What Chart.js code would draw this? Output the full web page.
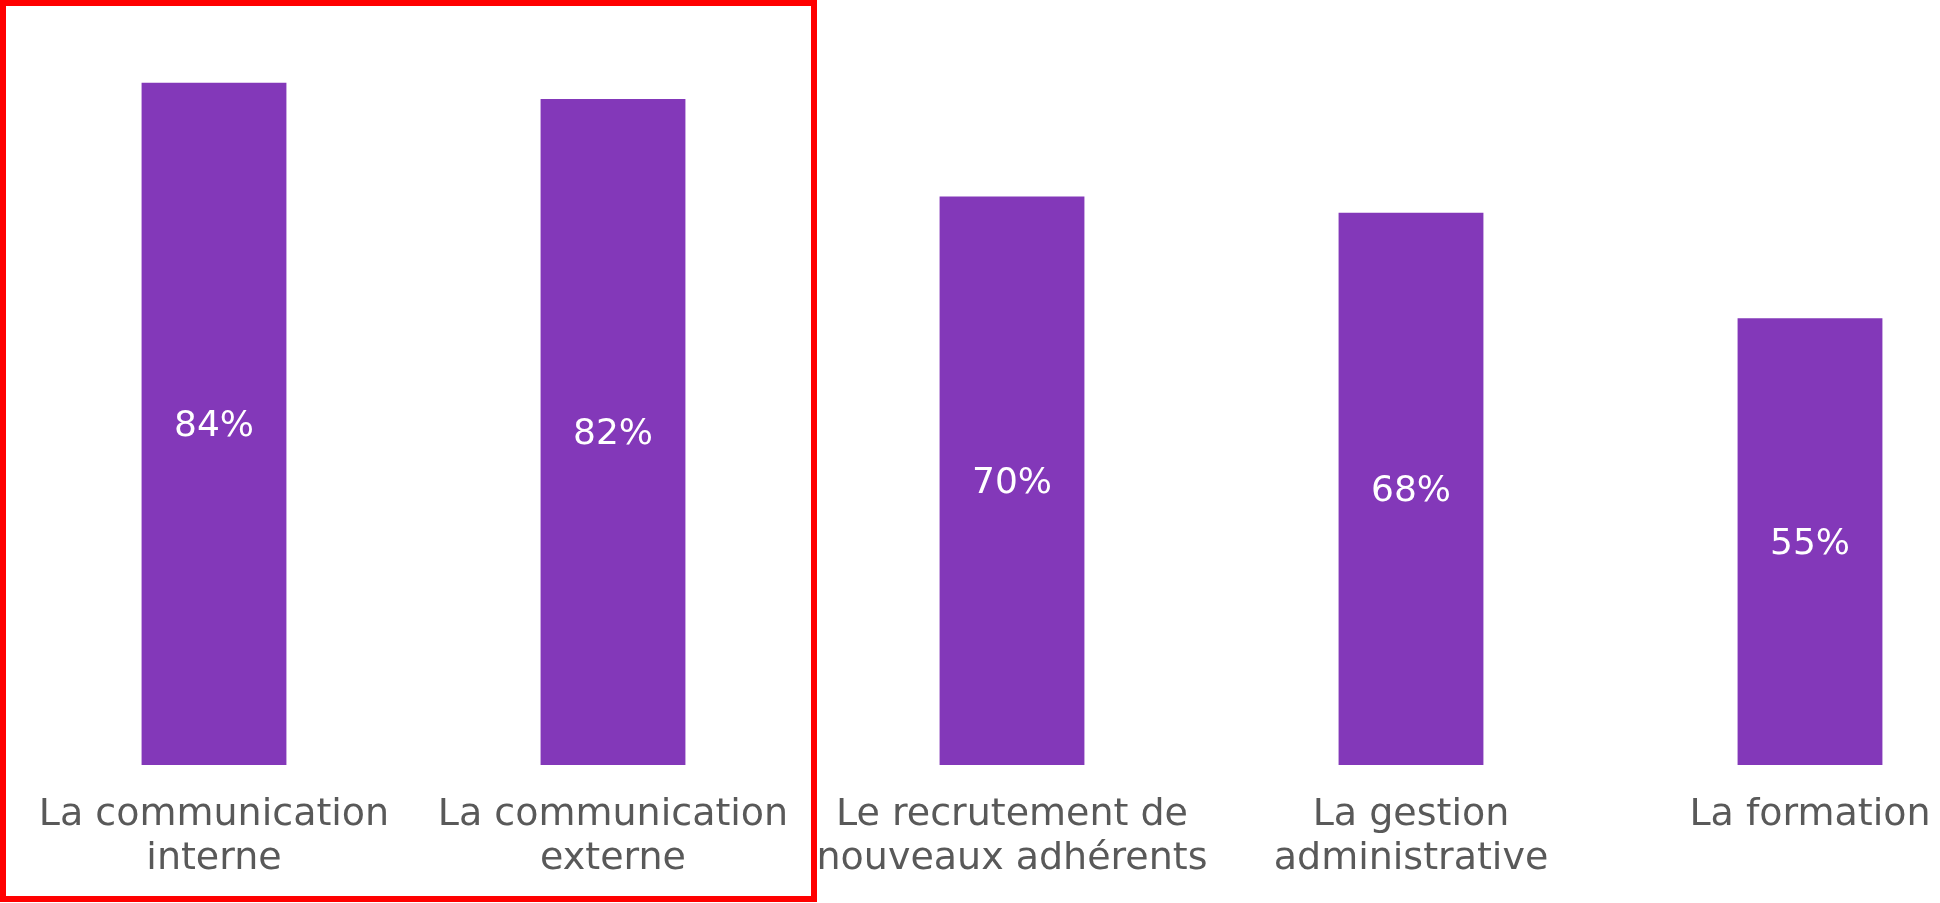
<!DOCTYPE html>
<html>
<head>
<meta charset="utf-8">
<script src="https://cdn.jsdelivr.net/npm/chart.js@4"></script>
<style>
    html, body { margin: 0; padding: 0; background: #fff; }
    #wrap { width: 1940px; height: 903px; position: relative; }
</style>
</head>
<body>
<div id="wrap"><canvas id="chart"></canvas></div>
<script>
// données
const categories = [
    ["La communication", "interne"],
    ["La communication", "externe"],
    ["Le recrutement de", "nouveaux adhérents"],
    ["La gestion", "administrative"],
    "La formation"
];
const percents = [84, 82, 70, 68, 55];

const purple = "#8338B9";
const labelFont = "'DejaVu Sans', sans-serif";

// étiquettes blanches au milieu des barres
const valueLabels = {
    id: "valueLabels",
    afterDatasetsDraw(chart) {
        const ctx = chart.ctx;
        const meta = chart.getDatasetMeta(0);
        ctx.save();
        ctx.fillStyle = "#ffffff";
        ctx.font = "36px " + labelFont;
        ctx.textAlign = "center";
        ctx.textBaseline = "middle";
        meta.data.forEach((bar, i) => {
            ctx.fillText(percents[i] + "%", bar.x, (bar.y + bar.base) / 2 + 3);
        });
        ctx.restore();
    }
};

// cadre rouge autour des deux premières catégories
const redFrame = {
    id: "redFrame",
    afterDraw(chart) {
        const ctx = chart.ctx;
        ctx.save();
        ctx.strokeStyle = "#FF0000";
        ctx.lineWidth = 6;
        ctx.strokeRect(3, 3, 811, 896);
        ctx.restore();
    }
};

new Chart(document.getElementById("chart"), {
    type: "bar",
    data: {
        labels: categories,
        datasets: [{
            data: percents,
            backgroundColor: purple,
            barPercentage: 0.363,
            categoryPercentage: 1,
            clip: false
        }]
    },
    options: {
        responsive: true,
        maintainAspectRatio: false,
        animation: false,
        layout: { padding: { left: 214, right: 130, top: 0, bottom: 0 } },
        plugins: {
            legend: { display: false },
            tooltip: { enabled: false }
        },
        scales: {
            x: {
                offset: false,
                grid: { display: false },
                border: { display: false },
                ticks: {
                    autoSkip: false,
                    maxRotation: 0,
                    minRotation: 0,
                    padding: 20,
                    color: "#595959",
                    font: { family: labelFont, size: 38, lineHeight: 1.16 }
                },
                afterFit(scale) {
                    scale.height = 138;
                    // les marges viennent de layout.padding
                    scale.paddingLeft = 0;
                    scale.paddingRight = 0;
                }
            },
            y: {
                display: false,
                min: 0,
                max: 94.2
            }
        }
    },
    plugins: [valueLabels, redFrame]
});
</script>
</body>
</html>
